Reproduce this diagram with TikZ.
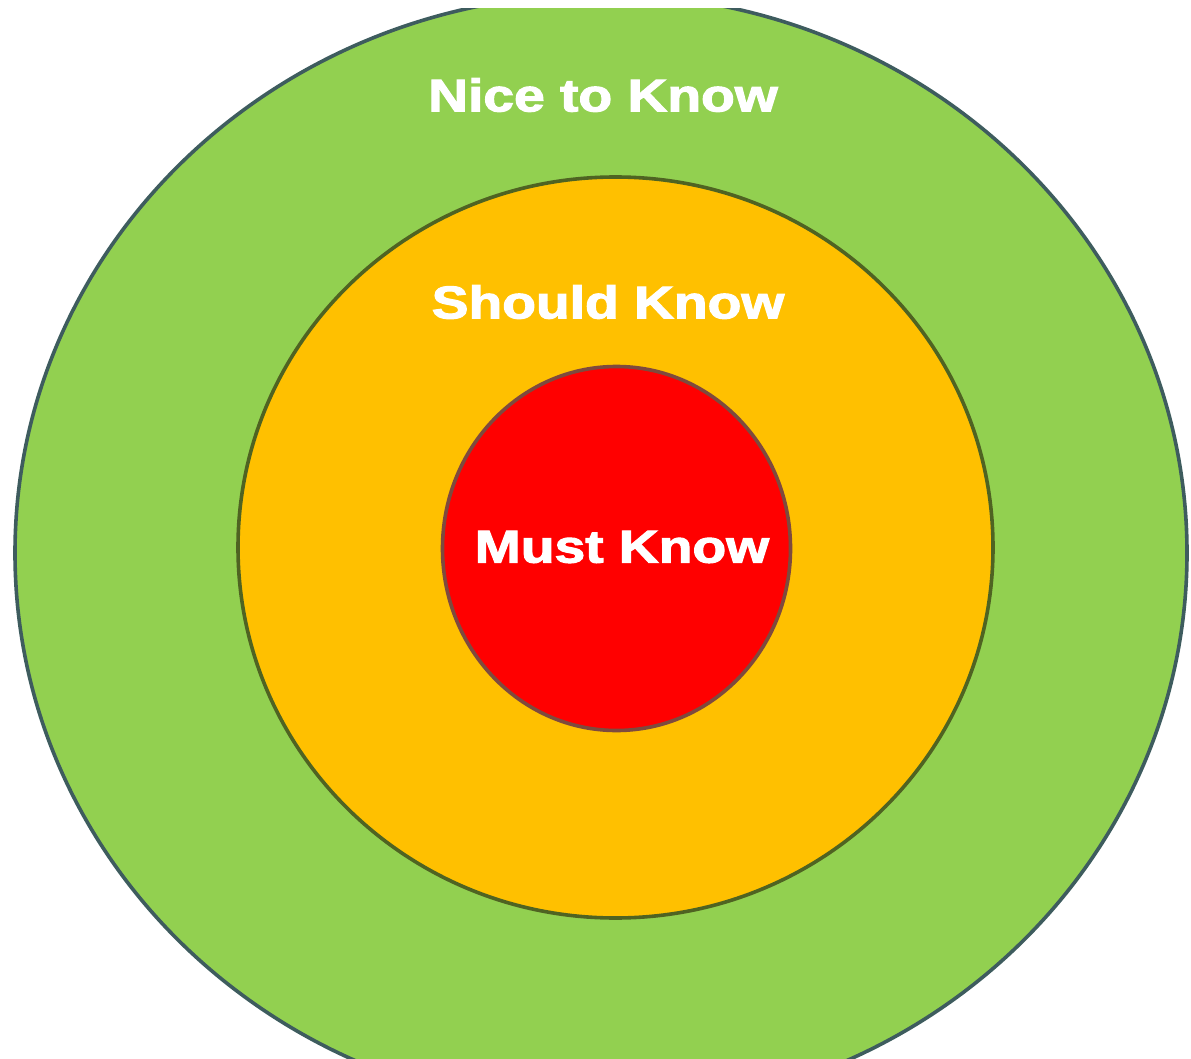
\documentclass[tikz,border=0pt]{standalone}
\usepackage{fontspec}
\setmainfont{Liberation Sans}
\newfontfamily\heavyfont[BoldFeatures={FakeBold=2.2}]{Liberation Sans}
\definecolor{ringgreen}{HTML}{92D050}
\definecolor{ringorange}{HTML}{FFC000}
\definecolor{ringred}{HTML}{FF0000}
\definecolor{edgeouter}{HTML}{3E5C5E}
\definecolor{edgemid}{HTML}{4F6322}
\definecolor{edgein}{HTML}{7E4A3E}
\tikzset{
  ring/.style={line width=3.6pt},
  lbl/.style={text=white, font=\heavyfont\fontsize{46}{50}\selectfont\bfseries, inner sep=0pt, anchor=center}
}
\newcommand{\wide}[1]{\scalebox{1.2}[1]{#1}}
\begin{document}
\begin{tikzpicture}[x=1pt,y=-1pt]
\useasboundingbox (0,0) rectangle (1191,1059);
\fill[white] (0,0) rectangle (1191,1059);
\begin{scope}
\clip (0,9) rectangle (1191,1059);
\draw[ring, draw=edgeouter, fill=ringgreen] (601,553) ellipse [x radius=586, y radius=559];
\end{scope}
\draw[ring, draw=edgemid, fill=ringorange] (615.5,547.5) ellipse [x radius=377.5, y radius=370.5];
\draw[ring, draw=edgein, fill=ringred] (616.5,548.5) ellipse [x radius=174, y radius=182];
\node[lbl] (nice) at (603,95) {\wide{Nice to Know}};
\node[lbl] (should) at (608,302) {\wide{Should Know}};
\node[lbl] (must) at (622,547) {\wide{Must Know}};
\end{tikzpicture}
\end{document}
